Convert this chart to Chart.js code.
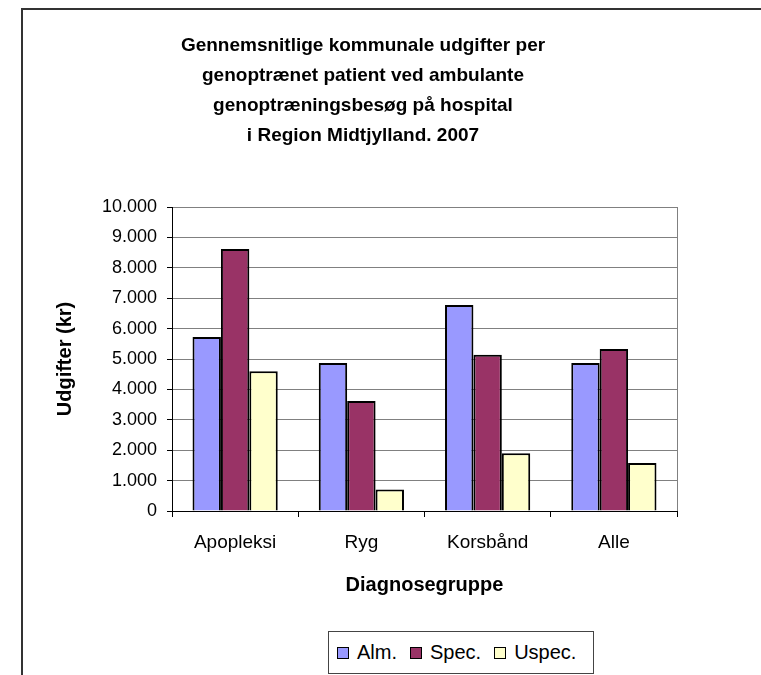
<!DOCTYPE html>
<html>
<head>
<meta charset="utf-8">
<script src="https://cdn.jsdelivr.net/npm/chart.js@4/dist/chart.umd.min.js"></script>
<style>
  html, body { margin: 0; padding: 0; background: #fff; overflow: hidden; }
  #wrap { position: relative; width: 761px; height: 675px; }
  #frame { position: absolute; left: 21px; top: 8px; width: 900px; height: 900px;
           border: 2px solid #333; box-sizing: border-box; }
  canvas { position: absolute; left: 0; top: 0; }
  #legend { position: absolute; left: 328px; top: 631px; width: 266px; height: 43px;
            border: 1px solid #444; box-sizing: border-box; background: #fff;
            font: 20px "Liberation Sans", Arial, sans-serif; color: #000;
            display: flex; align-items: center; padding-left: 8px; }
  #legend span.sw { display: inline-block; width: 10px; height: 10px; border: 1px solid #000;
                    margin-right: 8px; }
  #legend span.it { display: inline-flex; align-items: center; margin-right: 13px; }
</style>
</head>
<body>
<div id="wrap">
  <div id="frame"></div>
  <canvas id="chart" width="761" height="675"></canvas>
  <div id="legend"></div>
</div>
<script>
// Data
const categories = ['Apopleksi', 'Ryg', 'Korsbånd', 'Alle'];
const seriesNames = ['Alm.', 'Spec.', 'Uspec.'];
const alm = [5720, 4870, 6780, 4870];
const spec = [8620, 3620, 5140, 5330];
const uspec = [4600, 710, 1900, 1580];
const yTicks = [0, 1000, 2000, 3000, 4000, 5000, 6000, 7000, 8000, 9000, 10000];

const COLORS = ['#9999ff', '#993366', '#ffffcc'];
const FONT = '"Liberation Sans", Arial, sans-serif';

Chart.defaults.font.family = FONT;
Chart.defaults.color = '#000';

function fmt(v) {
  return String(v).replace(/\B(?=(\d{3})+(?!\d))/g, '.');
}

// gray right-hand border of the plot area
const plotBorder = {
  id: 'plotBorder',
  afterDatasetsDraw(chart) {
    const a = chart.chartArea;
    const ctx = chart.ctx;
    ctx.save();
    ctx.strokeStyle = '#808080';
    ctx.lineWidth = 1;
    ctx.beginPath();
    ctx.moveTo(Math.round(a.right) + 0.5, a.top);
    ctx.lineTo(Math.round(a.right) + 0.5, a.bottom);
    ctx.stroke();
    ctx.restore();
  },
};

const datasets = [alm, spec, uspec].map((d, i) => ({
  label: seriesNames[i],
  data: d,
  backgroundColor: COLORS[i],
  borderColor: '#000',
  borderWidth: 2,
  categoryPercentage: 0.675,
  barPercentage: 1,
}));

new Chart(document.getElementById('chart'), {
  type: 'bar',
  data: { labels: categories, datasets: datasets },
  plugins: [plotBorder],
  options: {
    responsive: false,
    animation: false,
    layout: { padding: { left: 49, right: 84, top: 11, bottom: 74 } },
    plugins: {
      legend: { display: false },
      tooltip: { enabled: false },
      title: {
        display: true,
        text: [
          'Gennemsnitlige kommunale udgifter per',
          'genoptrænet patient ved ambulante',
          'genoptræningsbesøg på hospital',
          'i Region Midtjylland. 2007',
        ],
        font: { size: 19, weight: 'bold', lineHeight: 30 / 19 },
        color: '#000',
        padding: { top: 20, bottom: 56 },
      },
    },
    scales: {
      x: {
        grid: { drawOnChartArea: false, drawTicks: true, tickLength: 6, tickColor: '#000', offset: true },
        border: { color: '#000', width: 1 },
        ticks: { font: { size: 19 }, padding: 14, color: '#000' },
        title: {
          display: true, text: 'Diagnosegruppe',
          font: { size: 20, weight: 'bold' }, padding: { top: 0, bottom: 4 },
        },
        afterFit(scale) { scale.height = 90; },
      },
      y: {
        min: 0,
        max: 10000,
        afterBuildTicks(scale) { scale.ticks = yTicks.map((v) => ({ value: v })); },
        grid: { color: '#808080', lineWidth: 1, tickLength: 5, tickColor: '#000' },
        border: { color: '#000', width: 1 },
        ticks: { font: { size: 18 }, padding: 10, color: '#000', callback: (v) => fmt(v) },
        title: {
          display: true, text: 'Udgifter (kr)',
          font: { size: 20, weight: 'bold' }, padding: { top: 4, bottom: 0 },
        },
        afterFit(scale) { scale.width = 123; },
      },
    },
  },
});

// legend box below the chart
const legend = document.getElementById('legend');
seriesNames.forEach((name, i) => {
  const it = document.createElement('span');
  it.className = 'it';
  const sw = document.createElement('span');
  sw.className = 'sw';
  sw.style.background = COLORS[i];
  it.appendChild(sw);
  it.appendChild(document.createTextNode(name));
  legend.appendChild(it);
});
</script>
</body>
</html>
